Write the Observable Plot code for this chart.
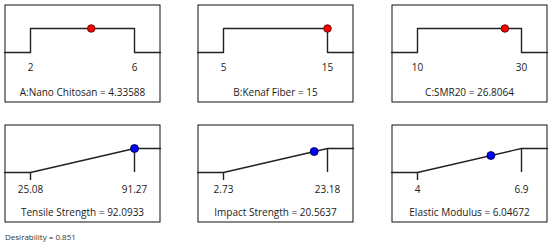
<!DOCTYPE html>
<html><head><meta charset="utf-8">
<script src="https://cdn.jsdelivr.net/npm/d3@7"></script>
<script src="https://cdn.jsdelivr.net/npm/@observablehq/plot@0.6"></script>
<style>
body{margin:0;background:#fff;}
#wrap{position:relative;width:550px;height:245px;font-family:"Open Sans",sans-serif;}
.panel{position:absolute;}
#desir{position:absolute;left:5px;top:232px;font-size:8px;line-height:10px;color:#333;font-family:"Open Sans",sans-serif;}
</style></head><body>
<div id="wrap"><div id="desir"></div></div>
<script>
// Factors (top row)
const factorNames = ["A:Nano Chitosan", "B:Kenaf Fiber", "C:SMR20"];
const factorLow = [2, 5, 10];
const factorHigh = [6, 15, 30];
const factorValues = [4.33588, 15, 26.8064];
// Responses (bottom row)
const responseNames = ["Tensile Strength", "Impact Strength", "Elastic Modulus"];
const responseLow = [25.08, 2.73, 4];
const responseHigh = [91.27, 23.18, 6.9];
const responseValues = [92.0933, 20.5637, 6.04672];
const desirability = 0.851;

const lefts = [4, 197, 391];
const tops = [4, 124];
const W = 156, H = 98, RX = [26, 130], RY = [48, 24];
const wrap = document.getElementById("wrap");
document.getElementById("desir").textContent = "Desirability = " + desirability;

function makePanel(kind, name, lo, hi, value) {
  const v = Math.max(lo, Math.min(hi, value));
  const d = kind === "factor" ? 1 : (v - lo) / (hi - lo);
  // data values at the box edges (inverse of the scales)
  const invX = d3.scaleLinear(RX, [lo, hi]);
  const invY = d3.scaleLinear(RY, [0, 1]);
  const edgeL = invX(0), edgeR = invX(W);
  const tickEnd = invY(RY[0] + 8);
  const marks = [Plot.frame({stroke: "#111", strokeWidth: 1, inset: 0.5})];
  const lineStyle = {stroke: "#222", strokeWidth: 1.4};
  const P = {x: p => p[0], y: p => p[1]};
  if (kind === "factor") {
    marks.push(
      Plot.line([[edgeL, 0], [lo, 0], [lo, 1], [hi, 1], [hi, 0], [edgeR, 0]], {...P, ...lineStyle}),
      Plot.text([lo, hi], {x: t => t, y: 0, dy: 15, text: t => String(t), fill: "#1a1a1a"}),
      Plot.dot([[v, d]], {...P, r: 3.8, fill: "#ff0000", stroke: "#400", strokeWidth: 0.8})
    );
  } else {
    marks.push(
      Plot.line([[edgeL, 0], [lo, 0], [hi, 1], [edgeR, 1]], {...P, ...lineStyle}),
      Plot.ruleX([hi], {y1: 0, y2: 1, ...lineStyle}),
      Plot.ruleX([lo], {y1: 0, y2: tickEnd, ...lineStyle}),
      Plot.text([lo, hi], {x: t => t, y: 0, dy: 17, text: t => String(t), fill: "#1a1a1a"}),
      Plot.dot([[v, d]], {...P, r: 4, fill: "#0000ff", stroke: "#002", strokeWidth: 0.8})
    );
  }
  marks.push(Plot.text([name + " = " + value], {frameAnchor: "bottom", dy: -7, text: t => t, fill: "#1a1a1a"}));
  return Plot.plot({
    width: W, height: H, margin: 0,
    x: {domain: [lo, hi], range: RX, axis: null},
    y: {domain: [0, 1], range: RY, axis: null},
    style: {fontFamily: "Open Sans, sans-serif", fontSize: "10px", background: "transparent", overflow: "visible"},
    marks
  });
}

for (let i = 0; i < 3; i++) {
  const p = makePanel("factor", factorNames[i], factorLow[i], factorHigh[i], factorValues[i]);
  p.classList.add("panel");
  p.style.left = lefts[i] + "px"; p.style.top = tops[0] + "px";
  wrap.appendChild(p);
  const q = makePanel("response", responseNames[i], responseLow[i], responseHigh[i], responseValues[i]);
  q.classList.add("panel");
  q.style.left = lefts[i] + "px"; q.style.top = tops[1] + "px";
  wrap.appendChild(q);
}
</script>
</body></html>
